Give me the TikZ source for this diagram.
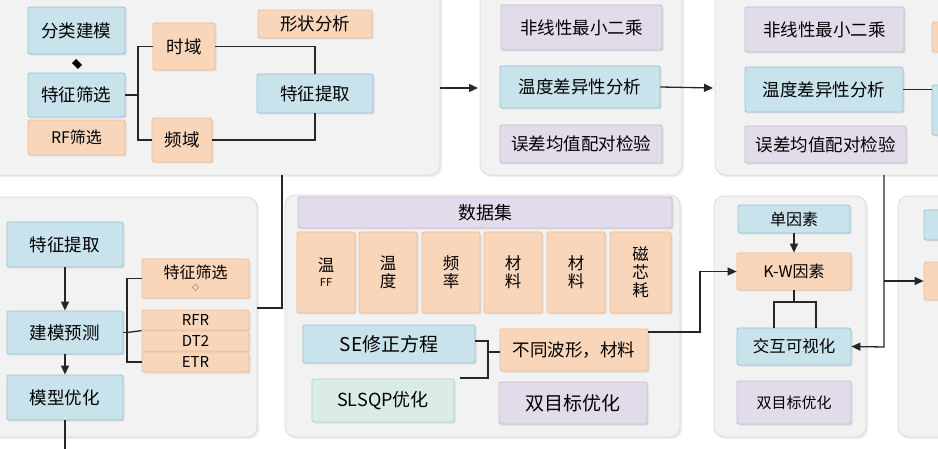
\documentclass[tikz,border=0pt]{standalone}
\usepackage{fontspec}
\setmainfont{Noto Sans CJK SC}
\usetikzlibrary{arrows.meta,shadows}
\definecolor{bF}{HTML}{C9E3EC}\definecolor{bD}{HTML}{96C3D3}
\definecolor{oF}{HTML}{F9D6BA}\definecolor{oD}{HTML}{ECBD98}
\definecolor{pF}{HTML}{E2DBEA}\definecolor{pD}{HTML}{C5BBD4}
\definecolor{gF}{HTML}{DBECE7}\definecolor{gD}{HTML}{B2D1C8}
\definecolor{panF}{HTML}{F2F2F3}\definecolor{panD}{HTML}{DADADD}
\begin{document}
\begin{tikzpicture}[x=1pt,y=-1pt,
 pan/.style={draw=panD,fill=panF,rounded corners=10pt,line width=0.8pt,drop shadow={opacity=0.15,shadow xshift=2pt,shadow yshift=-2pt}},
 bx/.style={rounded corners=2pt,line width=0.8pt,drop shadow={opacity=0.18,shadow xshift=1.5pt,shadow yshift=-1.5pt},font=\fontsize{17.5}{19}\selectfont},
 bl/.style={bx,draw=bD,fill=bF},
 or/.style={bx,draw=oD,fill=oF},
 pu/.style={bx,draw=pD,fill=pF},
 gr/.style={bx,draw=gD,fill=gF},
 ln/.style={line width=1.3pt,black!85},
 ar/.style={ln,-{Triangle[length=9pt,width=8pt]}}]
\useasboundingbox (0,0) rectangle (938,449);
\begin{scope}
\clip (0,0) rectangle (938,449);
% panels
\draw[pan] (-10,-10) rectangle (440,175);
\draw[pan] (480,-10) rectangle (682,175);
\draw[pan] (715,-10) rectangle (950,175);
\draw[pan] (-10,197) rectangle (257,437);
\draw[pan] (285,195) rectangle (680,437);
\draw[pan] (714,196) rectangle (866,437);
\draw[pan] (898,196) rectangle (950,437);
% P1
\node[bl,minimum width=97pt,minimum height=47pt] (a1) at (76.5,30.5) {分类建模};
\node[bl,minimum width=97pt,minimum height=44pt] (a2) at (76.5,95) {特征筛选};
\node[or,minimum width=97pt,minimum height=35pt,font=\fontsize{16}{17}\selectfont] (a3) at (76.5,137.5) {RF筛选};
\node[fill=black,inner sep=0pt,minimum width=6pt,minimum height=6pt,rotate=45,yscale=1.4] (dm) at (77,64) {};
\node[or,minimum width=62pt,minimum height=47pt] (a4) at (184,46.5) {时域};
\node[or,minimum width=60pt,minimum height=44pt] (a5) at (182,140) {频域};
\node[or,minimum width=114pt,minimum height=28pt] (a6) at (315,24) {形状分析};
\node[bl,minimum width=116pt,minimum height=39pt] (a7) at (315,93.5) {特征提取};
\draw[ln] (a2.east) -- (138,95) |- (a4.west);
\draw[ln] (138,95) |- (a5.west);
\draw[ln] (a4.east) -| (a7.north);
\draw[ln] (a5.east) -| (a7.south);
\coordinate (p1r) at (440,88);
\coordinate (p2l) at (478,88);
\draw[ar] (p1r) -- (p2l);
% P2
\node[pu,minimum width=161pt,minimum height=45pt] (b1) at (581.5,27.5) {非线性最小二乘};
\node[bl,minimum width=160pt,minimum height=42pt] (b2) at (580,87) {温度差异性分析};
\node[pu,minimum width=162pt,minimum height=38pt] (b3) at (581,144) {误差均值配对检验};
\coordinate (p3l) at (713,88);
\draw[ar] (b2.east) -- (p3l);
% P3
\node[pu,minimum width=159pt,minimum height=45pt] (c1) at (824.5,29.5) {非线性最小二乘};
\node[bl,minimum width=158pt,minimum height=45pt] (c2) at (824,89.5) {温度差异性分析};
\node[pu,minimum width=161pt,minimum height=37pt] (c3) at (825.5,144.5) {误差均值配对检验};
\node[or,minimum width=40pt,minimum height=30pt] (c4) at (952,37) {};
\node[bl,minimum width=40pt,minimum height=50pt] (c5) at (952,110) {};
\draw[ln] (c2.east) -- (c5.west |- c2.east);
% P4
\node[bl,minimum width=116pt,minimum height=45pt] (d1) at (65,244.5) {特征提取};
\node[bl,minimum width=116pt,minimum height=43pt] (d2) at (65,332.5) {建模预测};
\node[bl,minimum width=116pt,minimum height=45pt] (d3) at (65,397.5) {模型优化};
\draw[ar] (d1.south) -- (d2.north);
\draw[ar] (d2.south) -- (d3.north);
\coordinate (d3b) at (65,449);
\draw[ln] (d3.south) -- (d3b);
\node[or,minimum width=107pt,minimum height=39pt,align=center,font=\fontsize{16}{16}\selectfont] (e1) at (195.5,278.5) {特征筛选\\[-4pt]{\fontsize{7}{8}\selectfont ◇}};
\node[or,minimum width=107pt,minimum height=20pt,font=\fontsize{15}{15}\selectfont,inner sep=0pt] (e2) at (195.5,320) {RFR};
\node[or,minimum width=107pt,minimum height=20pt,font=\fontsize{15}{15}\selectfont,inner sep=0pt] (e3) at (195.5,341) {DT2};
\node[or,minimum width=107pt,minimum height=20pt,font=\fontsize{15}{15}\selectfont,inner sep=0pt] (e4) at (195.5,362) {ETR};
\draw[ln] (d2.east) -- (127,332.5);
\draw[ln] (e1.west) -| (127,362) -- (e4.west);
\draw[ln] (127,332.5) -- (e3.north west);
\coordinate (p1b) at (282,175);
\coordinate (p4r) at (257,308);
\draw[ln] (p1b) |- (p4r);
% P5
\node[pu,minimum width=374pt,minimum height=31pt,font=\fontsize{18}{19}\selectfont] (f0) at (485,212.5) {数据集};
\foreach \n/\x/\w/\t in {f1/326/58/{温\\[-3pt]{\fontsize{11}{10}\selectfont FF}},f2/388/58/{温\\度},f3/451/58/{频\\率},f4/513/58/{材\\料},f5/576/58/{材\\料},f6/640.5/61/{磁\\芯\\耗}}
  \node[or,minimum width=\w pt,minimum height=81pt,align=center,font=\fontsize{16.5}{18}\selectfont] (\n) at (\x,272.5) {\t};
\node[bl,minimum width=172pt,minimum height=38pt,font=\fontsize{19}{20}\selectfont] (g1) at (389,344) {SE修正方程};
\node[or,minimum width=148pt,minimum height=42pt] (g2) at (574,350) {不同波形，材料};
\node[gr,minimum width=142pt,minimum height=43pt,font=\fontsize{18}{19}\selectfont] (g3) at (383,400.5) {SLSQP优化};
\node[pu,minimum width=148pt,minimum height=42pt,font=\fontsize{19}{20}\selectfont] (g4) at (573,403) {双目标优化};
\coordinate (g3t) at (460,378);
\draw[ln] (g1.east |- 0,341) -- (488,341) -- (488,378) -- (g3t);
\draw[ln] (488,352) -- (g2.west |- 0,352);
% P6
\node[bl,minimum width=112pt,minimum height=28pt,font=\fontsize{16}{17}\selectfont] (h1) at (794,219) {单因素};
\node[or,minimum width=114pt,minimum height=37pt,font=\fontsize{16}{17}\selectfont] (h2) at (794,271.5) {K-W因素};
\node[bl,minimum width=114pt,minimum height=37pt,font=\fontsize{16.5}{17}\selectfont] (h3) at (794,346.5) {交互可视化};
\node[pu,minimum width=114pt,minimum height=43pt,font=\fontsize{15}{16}\selectfont] (h4) at (794,402.5) {双目标优化};
\draw[ar] (h1.south) -- (h2.north);
\draw[ln] (h2.south) -- (794,302) -- (774,302) -- (774,328);
\draw[ln] (794,302) -- (816,302) -- (816,328);
\draw[ar] (g2.east |- 0,332) -- (700,332) |- (h2.west);
% P3 -> P6/P7
\node[or,minimum width=40pt,minimum height=38pt] (i2) at (944,281) {};
\node[bl,minimum width=40pt,minimum height=30pt] (i1) at (944,225) {};
\coordinate (v1) at (884,175);
\draw[ar] (v1) -- (884,347) -- (h3.east);
\draw[ar] (884,281) -- (i2.west);
\end{scope}
\end{tikzpicture}
\end{document}
